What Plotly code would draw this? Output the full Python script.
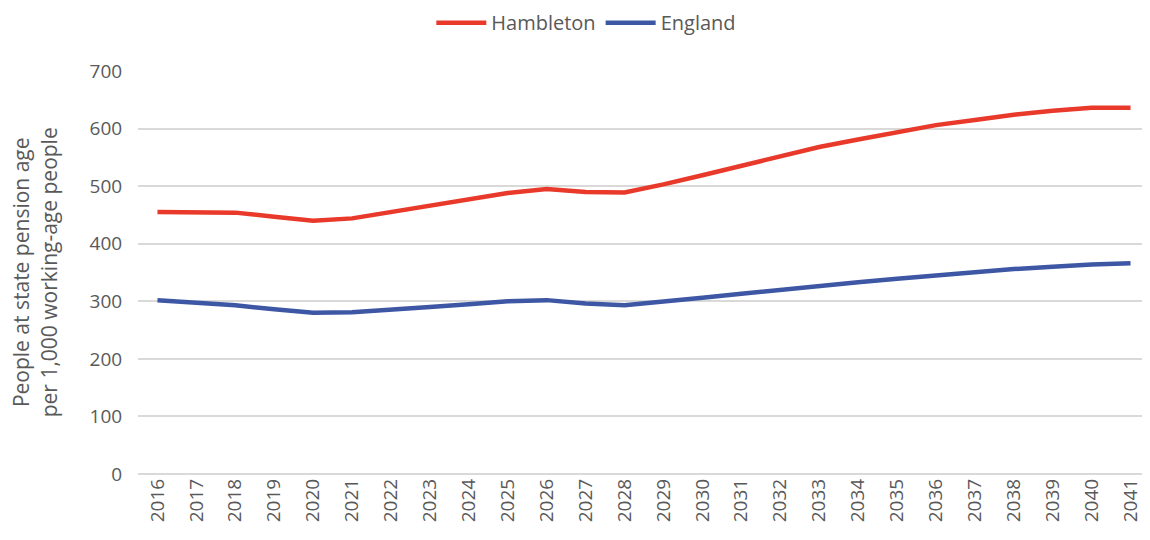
import plotly.graph_objects as go

years = [str(y) for y in range(2016, 2042)]
hambleton = [455, 454, 454, 447, 440, 444, 455, 465, 476, 488, 495, 490, 489,
             503, 519, 535, 553, 568, 581, 594, 606, 615, 624, 631, 636, 636]
england = [302, 297, 293, 286, 280, 281, 285, 290, 295, 300, 302, 296, 293,
           299, 306, 313, 320, 327, 333, 339, 345, 350, 356, 360, 364, 366]

font = "Open Sans"
grey = "#595959"

fig = go.Figure()
fig.add_trace(go.Scatter(x=years, y=hambleton, name="Hambleton", mode="lines",
                         line=dict(color="#E8392A", width=4.5)))
fig.add_trace(go.Scatter(x=years, y=england, name="England", mode="lines",
                         line=dict(color="#3D57A5", width=4.5)))

# page body has an 8px margin; size the figure so the page does not overflow
fig.update_layout(
    width=1142, height=532,
    margin=dict(l=130, r=0, t=63, b=66, autoexpand=False),
    plot_bgcolor="white", paper_bgcolor="white",
    font=dict(family=font, color=grey, size=17),
    legend=dict(orientation="h", x=0.443, xanchor="center", y=1.12, yanchor="middle",
                itemwidth=50, font=dict(size=20, color=grey)),
    showlegend=True,
)
fig.update_xaxes(type="category", tickangle=-90, showgrid=False, ticks="",
                 automargin=False, tickfont=dict(size=19, color=grey),
                 range=[-0.5, 25.5])
fig.update_yaxes(range=[0, 700], dtick=100, showgrid=True, gridcolor="#D9D9D9",
                 gridwidth=1.5, zeroline=True, zerolinecolor="#D9D9D9", zerolinewidth=1.5,
                 automargin=False, tickfont=dict(size=19, color=grey), ticksuffix="   ")
fig.add_annotation(text="People at state pension age<br>per 1,000 working-age people",
                   xref="paper", yref="paper", x=-0.102, y=0.5, xanchor="center",
                   yanchor="middle", textangle=-90, showarrow=False,
                   font=dict(size=21, color=grey))

fig.write_html("out.html")
